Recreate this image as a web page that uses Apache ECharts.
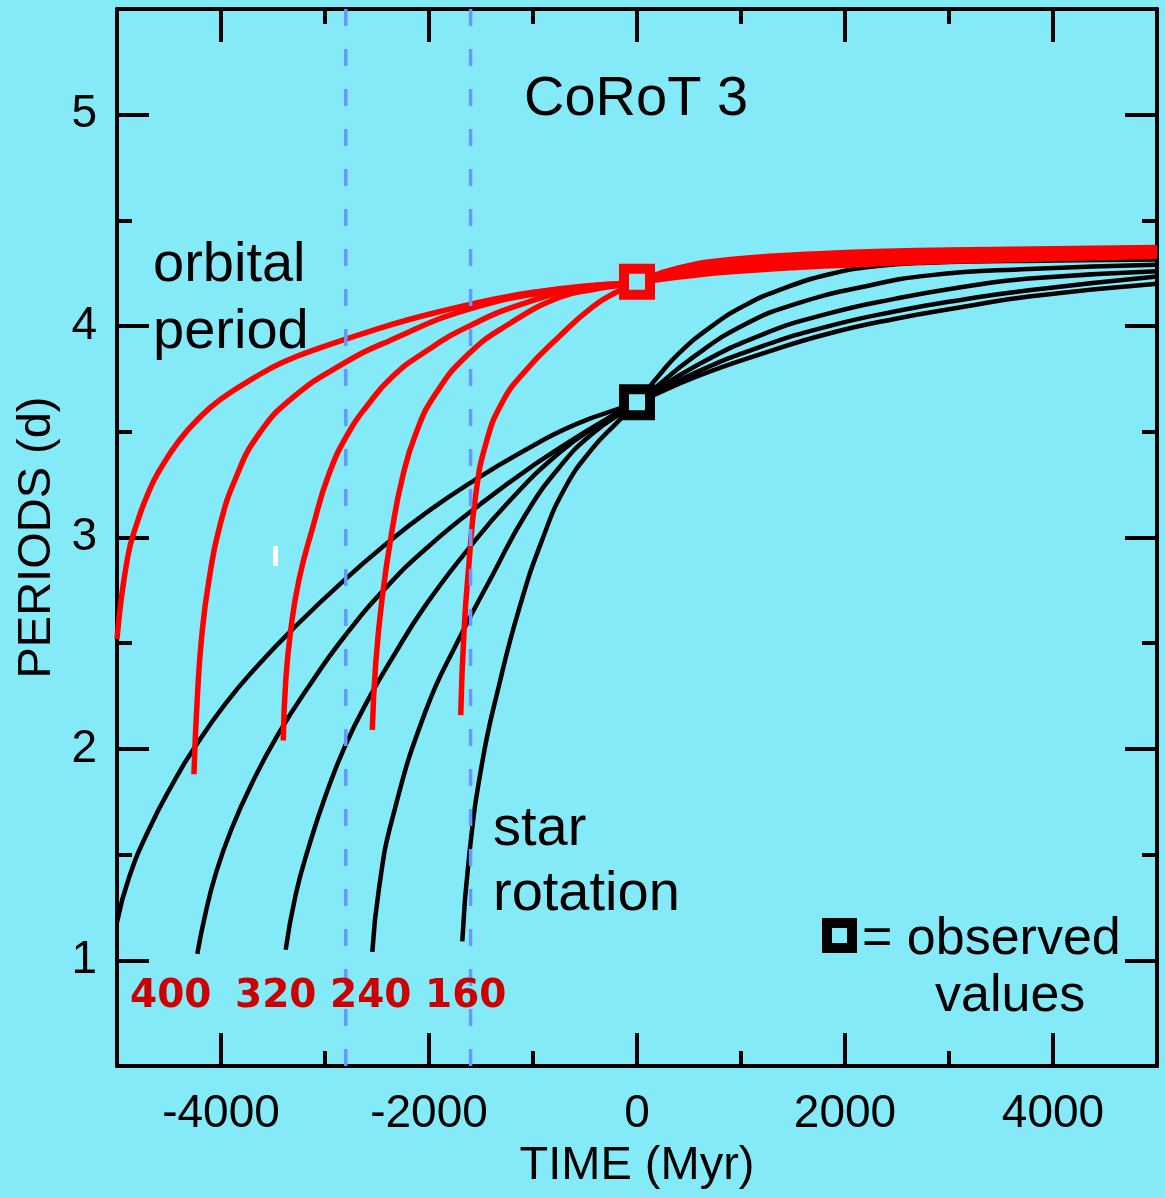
<!DOCTYPE html>
<html><head><meta charset="utf-8">
<script src="https://cdn.jsdelivr.net/npm/echarts@6/dist/echarts.min.js"></script>
<style>html,body{margin:0;padding:0;background:#84eaf8;} #c{width:1165px;height:1198px;}</style>
</head><body><div id="c"></div>
<script>
// ---- data ----
const xMajorTicks = [-4000, -2000, 0, 2000, 4000];
const xMinorTicks = [-3000, -1000, 1000, 3000];
const yMajorTicks = [1, 2, 3, 4, 5];
const yMinorTicks = [1.5, 2.5, 3.5, 4.5];

// orbital period curves [time Myr, period d]
const orbit1 = [[-5000,2.52],[-4900,2.90],[-4800,3.08],[-4700,3.21],[-4600,3.31],[-4400,3.46],[-4200,3.57],[-4000,3.655],[-3700,3.75],[-3400,3.83],[-3000,3.905],[-2600,3.97],[-2200,4.03],[-1800,4.08],[-1400,4.125],[-1000,4.16],[-500,4.19],[0,4.207],[400,4.232],[900,4.257],[1850,4.285],[3000,4.307],[5000,4.33]];
const orbit2 = [[-4260,1.88],[-4228,2.24],[-4180,2.56],[-4115,2.80],[-4019,3.04],[-3859,3.28],[-3635,3.49],[-3314,3.66],[-2833,3.82],[-2385,3.93],[-1615,4.08],[-750,4.17],[0,4.207],[400,4.242],[900,4.272],[1850,4.30],[3000,4.32],[5000,4.34]];
const orbit3 = [[-3401,2.04],[-3378,2.32],[-3330,2.56],[-3250,2.80],[-3122,3.04],[-2962,3.30],[-2769,3.50],[-2600,3.62],[-2353,3.76],[-2032,3.88],[-1615,4.00],[-1070,4.11],[-430,4.19],[0,4.207],[400,4.252],[900,4.287],[1850,4.315],[3000,4.333],[5000,4.35]];
const orbit4 = [[-2545,2.09],[-2513,2.40],[-2449,2.72],[-2353,3.04],[-2257,3.28],[-2128,3.49],[-1936,3.68],[-1615,3.87],[-1231,4.01],[-750,4.135],[-400,4.175],[0,4.207],[400,4.262],[900,4.30],[1850,4.33],[3000,4.347],[5000,4.36]];
const orbit5 = [[-1695,2.16],[-1663,2.56],[-1615,2.88],[-1551,3.20],[-1455,3.44],[-1295,3.64],[-1070,3.79],[-750,3.95],[-430,4.09],[-200,4.16],[0,4.207],[400,4.275],[900,4.315],[1850,4.345],[3000,4.36],[5000,4.372]];

// star rotation curves
const spin1 = [[-5000,1.18],[-4885,1.39],[-4692,1.62],[-4436,1.86],[-4276,1.99],[-3955,2.215],[-3635,2.40],[-3314,2.565],[-2833,2.79],[-2385,2.98],[-2032,3.115],[-1615,3.255],[-1070,3.415],[-590,3.535],[0,3.64],[564,3.76],[1205,3.87],[1846,3.965],[2487,4.035],[3128,4.09],[3769,4.14],[5000,4.20]];
const spin2 = [[-4228,1.03],[-4150,1.22],[-4050,1.41],[-3900,1.62],[-3700,1.84],[-3450,2.07],[-3150,2.30],[-2800,2.54],[-2400,2.77],[-2000,2.96],[-1500,3.16],[-1000,3.34],[-500,3.50],[0,3.64],[564,3.78],[1205,3.905],[1846,4.00],[2487,4.07],[3128,4.125],[3769,4.17],[5000,4.235]];
const spin3 = [[-3378,1.05],[-3282,1.31],[-3154,1.54],[-2994,1.78],[-2801,2.02],[-2577,2.24],[-2353,2.43],[-2032,2.68],[-1615,2.95],[-1231,3.17],[-750,3.40],[-350,3.54],[0,3.64],[560,3.81],[1205,3.96],[1846,4.06],[2487,4.13],[3128,4.185],[3769,4.225],[5000,4.26]];
const spin4 = [[-2545,1.04],[-2481,1.34],[-2353,1.67],[-2032,2.18],[-1712,2.52],[-1391,2.82],[-1070,3.11],[-750,3.33],[-433,3.49],[0,3.64],[560,3.86],[1045,4.01],[1526,4.105],[2166,4.185],[2808,4.24],[3769,4.27],[5000,4.29]];
const spin5 = [[-1680,1.09],[-1615,1.49],[-1487,1.94],[-1327,2.30],[-1135,2.66],[-911,2.99],[-686,3.24],[-430,3.42],[-200,3.54],[0,3.64],[200,3.76],[400,3.87],[720,4.00],[1045,4.10],[1365,4.17],[1850,4.245],[2330,4.285],[2800,4.30],[4000,4.31],[5000,4.315]];

const observedOrbital = [[0, 4.21]];
const observedSpin = [[0, 3.64]];
const markerTimes = [-2800, -1600];
const curveLabels = ['400', '320', '240', '160'];

// ---- styling ----
const BG = '#84eaf8';
const FONT = "'Liberation Sans', Arial, Helvetica, sans-serif";
const chart = echarts.init(document.getElementById('c'), null, {renderer: 'canvas'});

function xAx(pos, ticks, len, line, labels, extra) {
  return Object.assign({
    type: 'value', position: pos, min: -5000, max: 5000,
    axisLine: {show: line, onZero: false, lineStyle: {color: '#000', width: 4}},
    axisTick: {show: true, inside: true, length: len, customValues: ticks, lineStyle: {color: '#000', width: 4}},
    axisLabel: labels ? {show: true, customValues: ticks, margin: 25, color: '#000', fontSize: 46, fontFamily: FONT, formatter: v => String(v)} : {show: false},
    splitLine: {show: false}
  }, extra || {});
}
function yAx(pos, ticks, len, line, labels, extra) {
  return Object.assign({
    type: 'value', position: pos, min: 0.5, max: 5.5,
    axisLine: {show: line, onZero: false, lineStyle: {color: '#000', width: 4}},
    axisTick: {show: true, inside: true, length: len, customValues: ticks, lineStyle: {color: '#000', width: 4}},
    axisLabel: labels ? {show: true, customValues: ticks, margin: 20, color: '#000', fontSize: 46, fontFamily: FONT, formatter: v => String(v)} : {show: false},
    splitLine: {show: false}
  }, extra || {});
}

function curve(data, color, w, z) {
  return {type: 'line', data: data, symbol: 'none', smooth: 0.5,
    lineStyle: {color: color, width: w}, silent: true, z: z, clip: true};
}
function vline(t) {
  return {type: 'line', data: [[t, 5.5], [t, 0.5]], symbol: 'none', silent: true, z: 6,
    lineStyle: {color: '#6699ff', width: 3.5, type: [17, 23]}};
}
function obs(data, color) {
  return {type: 'scatter', data: data, symbol: 'rect', symbolSize: 26, silent: true, z: 8,
    itemStyle: {color: BG, borderColor: color, borderWidth: 10, opacity: 1}};
}

function txt(x, y, s, size, opts) {
  return Object.assign({type: 'text', x: x, y: y, silent: true, z: 100,
    style: {text: s, font: (opts && opts.bold ? 'bold ' : '') + size + 'px ' + ((opts && opts.family) || FONT),
      fill: (opts && opts.fill) || '#000', align: 'left', verticalAlign: 'middle'}});
}

const labelX = [130, 235, 330, 425];
const graphics = [
  txt(524, 100, 'CoRoT 3', 56),
  txt(153, 265.6, 'orbital', 56),
  txt(153, 332.6, 'period', 56),
  txt(493, 829.6, 'star', 56),
  txt(493, 894.6, 'rotation', 56),
  txt(862, 940, '= observed', 52),
  txt(935, 997, 'values', 52),
  {type: 'rect', shape: {x: 827, y: 923, width: 25, height: 25}, style: {fill: BG, stroke: '#000', lineWidth: 10}, z: 100, silent: true},
  {type: 'rect', shape: {x: 273, y: 546, width: 5, height: 20}, style: {fill: '#ffffff'}, z: 100, silent: true}
];
curveLabels.forEach((s, i) => graphics.push(txt(labelX[i], 996.5, s, 39, {bold: true, fill: '#cc0000', family: "'DejaVu Sans', Verdana, sans-serif"})));

const option = {
  backgroundColor: BG,
  animation: false,
  textStyle: {fontFamily: FONT},
  grid: {left: 117, right: 8, top: 9, bottom: 132, containLabel: false},
  xAxis: [
    xAx('bottom', xMajorTicks, 33, true, true, {name: 'TIME (Myr)', nameLocation: 'middle', nameGap: 77, nameTextStyle: {fontSize: 47, color: '#000', fontFamily: FONT}}),
    xAx('bottom', xMinorTicks, 15, false, false),
    xAx('top', xMajorTicks, 33, true, false),
    xAx('top', xMinorTicks, 15, false, false)
  ],
  yAxis: [
    yAx('left', yMajorTicks, 32, true, true, {name: 'PERIODS (d)', nameLocation: 'middle', nameGap: 56, nameRotate: 90, nameTextStyle: {fontSize: 47, color: '#000', fontFamily: FONT}}),
    yAx('left', yMinorTicks, 15, false, false),
    yAx('right', yMajorTicks, 32, true, false),
    yAx('right', yMinorTicks, 15, false, false)
  ],
  series: [
    curve(spin1, '#000', 4.5, 2), curve(spin2, '#000', 4.5, 2), curve(spin3, '#000', 4.5, 2), curve(spin4, '#000', 4.5, 2), curve(spin5, '#000', 4.5, 2),
    curve(orbit1, '#ff0000', 5.5, 3), curve(orbit2, '#ff0000', 5.5, 3), curve(orbit3, '#ff0000', 5.5, 3), curve(orbit4, '#ff0000', 5.5, 3), curve(orbit5, '#ff0000', 5.5, 3),
    vline(markerTimes[0]), vline(markerTimes[1]),
    obs(observedOrbital, '#ff0000'), obs(observedSpin, '#000')
  ],
  graphic: graphics
};
chart.setOption(option);
</script>
</body></html>
